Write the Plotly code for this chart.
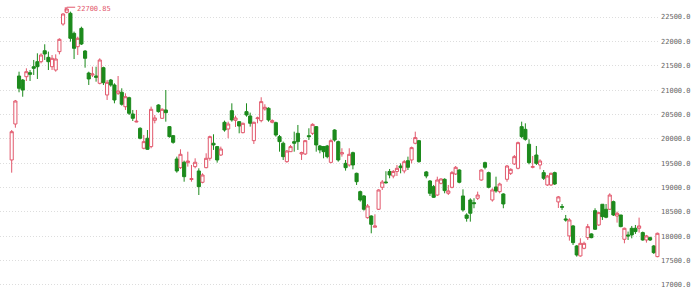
import plotly.graph_objects as go

opens = [19566,20304,21289,21207,21275,21357,21480,21583,21583,21808,
         21672,21480,21412,21789,22356,22596,22576,22165,21891,22267,
         21802,21350,21310,21290,21139,21460,20900,21207,21105,20934,
         20955,20659,20844,20510,20345,20216,19806,20011,19840,20380,
         20694,20421,20592,20250,20065,19586,19408,19519,19511,19165,
         19429,19340,19108,19408,19600,19909,19840,19668,20339,20202,
         20578,20380,20352,20126,20558,20469,19962,20414,20373,20612,
         20627,20339,20332,20045,19909,19531,19736,19942,20113,19689,
         19689,20065,20113,20250,19853,19840,19853,19517,20181,19942,
         19689,19497,19463,19716,19292,18916,18827,18382,18416,18185,
         18554,19005,19114,19330,19237,19330,19442,19340,19552,19566,
         19909,19962,None,
         19320,19135,19018,18847,19087,19169,18882,19005,19278,19360,
         18827,18437,18745,18690,18780,19155,19511,19306,18745,19012,
         18916,18868,19169,19292,19484,19395,20250,20195,19888,19415,
         19668,19463,19306,19053,19053,19306,18705,18610,18356,18007,
         18212,17801,17596,17753,17972,18048,18526,18232,18657,18554,
         18554,18711,18416,18437,17938,18027,18164,18164,18164,18075,
         17924,17972,17801,17582]
highs = [20181,20797,21378,21228,21447,21412,21618,21755,21755,21940,
         21789,21720,21734,22063,22576,22700.85,22610,22200,22096,22301,
         21823,21378,21480,21480,21652,21480,21207,21228,21139,21289,
         21037,20934,20864,20592,20592,20237,20079,20181,20661,20489,
         20709,20627,21002,20263,20079,19634,19785,19552,19736,19463,
         19600,19395,19292,19703,20065,20093,19853,19840,20373,20352,
         20729,20476,20366,20332,20729,20537,20352,20455,20853,20709,
         20647,20400,20352,20079,19942,19770,19874,20147,20284,19736,
         19976,20216,20318,20263,19874,19853,19874,19990,20195,19962,
         19806,19566,19806,19736,19305,18937,18847,18662,18430,18451,
         18964,19155,19335,19381,19360,19463,19497,19566,19634,19840,
         20147,19976,None,
         19340,19155,19053,19223,19190,19190,19053,19340,19442,19374,
         18964,18472,18779,18780,18916,19374,19531,19326,18984,19223,
         19100,18882,19463,19395,19668,19942,20352,20318,19990,19648,
         19853,19580,19360,19258,19306,19326,18827,18662,18437,18370,
         18232,17821,17958,17890,18253,18062,18575,18506,18662,18662,
         18882,18732,18506,18437,18178,18096,18212,18232,18383,18096,
         18027,17993,17821,18075]
lows = [19305,20228,20955,20864,21187,21187,21310,21228,21549,21618,
        21412,21412,21378,21734,22322,22576,21994,21638,21720,21925,
        21460,21105,21268,21173,21118,21105,20797,21070,20729,20900,
        20681,20592,20489,20366,20340,19990,19785,19772,19806,20318,
        20537,20407,20352,20025,19900,19305,19381,19120,19429,19120,
        19395,18847,19087,19395,19552,19772,19511,19648,20147,20011,
        20352,20243,20113,20113,20455,20250,19894,20318,20339,20578,
        20352,20318,20045,19736,19566,19510,19730,19736,19772,19566,
        19668,19976,20079,19736,19703,19600,19600,19497,19942,19531,
        19634,19347,19429,19374,19053,18711,18526,18361,18061,18185,
        18540,18950,19080,19190,19190,19237,19292,19292,19360,19497,
        19888,19511,None,
        19190,18827,18786,18827,19066,18882,18847,18984,19258,19087,
        18506,18300,18300,18575,18745,19140,19374,18984,18711,18895,
        18882,18575,19120,19258,19463,19374,20011,19962,19477,19395,
        19463,19374,19155,19032,19032,19053,18581,18540,18300,17910,
        17821,17582,17582,17733,17924,17959,18130,18212,18335,18370,
        18540,18416,18280,18185,17856,17924,17958,18048,18075,17910,
        17869,17903,17637,17569]
closes = [20146,20776,21037,21002,21378,21324,21447,21480,21720,21741,
          21583,21652,21638,22042,22562,22664,22063,21857,22063,21946,
          21652,21228,21330,21262,21618,21152,21160,21105,20797,20982,
          20709,20864,20524,20421,20360,20011,19942,19785,20606,20428,
          20558,20606,20537,20045,19928,19340,19682,19223,19545,19183,
          19519,19018,19258,19600,20045,19874,19566,19791,20181,20304,
          20387,20428,20263,20318,20489,20318,20339,20428,20763,20647,
          20387,20373,20079,19942,19634,19750,19840,19909,19942,19716,
          19962,20045,20297,19874,19772,19736,19634,19962,19976,19566,
          19716,19408,19682,19463,19120,18745,18554,18621,18245,18212,
          18950,19114,19100,19258,19330,19395,19408,19531,19415,19819,
          20025,19531,None,
          19237,18882,18800,19155,19176,18937,18930,19306,19415,19108,
          18540,18368,18472,18670,18847,19360,19415,19005,18950,18930,
          19073,18663,19442,19374,19634,19921,20045,19990,19511,19429,
          19497,19545,19190,19237,19292,19073,18808,18596,18335,18335,
          17869,17616,17855,17855,18198,17972,18144,18485,18403,18390,
          18847,18437,18472,18198,18164,18007,18027,18096,18212,17924,
          18007,17924,17664,18061]

x_idx = list(range(len(opens)))
y_ticks = [17000, 17500, 18000, 18500, 19000, 19500, 20000, 20500, 21000, 21500, 22000, 22500]

RED = "#e2586c"
GREEN = "#1c8a1c"

fig = go.Figure(go.Candlestick(
    x=x_idx, open=opens, high=highs, low=lows, close=closes,
    increasing=dict(line=dict(color=RED, width=1), fillcolor="#ffffff"),
    decreasing=dict(line=dict(color=GREEN, width=1), fillcolor=GREEN),
    whiskerwidth=0,
    showlegend=False,
))

valid_highs = [h if h is not None else -1 for h in highs]
imax = valid_highs.index(max(valid_highs))
hmax = highs[imax]

fig.add_shape(type="line", x0=x_idx[imax], x1=x_idx[imax] + 2.3, y0=hmax, y1=hmax,
              line=dict(color=RED, width=1))
fig.add_shape(type="line", x0=x_idx[imax] - 0.4, x1=x_idx[imax] - 0.4, y0=hmax, y1=hmax - 90,
              line=dict(color=RED, width=1))
fig.add_annotation(x=x_idx[imax] + 2.3, y=hmax, text=f"{hmax:.2f}", showarrow=False,
                   xanchor="left", yanchor="middle", yshift=-2,
                   font=dict(family="DejaVu Sans Mono", size=7, color=RED))

fig.update_layout(
    width=700, height=302,
    margin=dict(l=0, r=40, t=0, b=0),
    paper_bgcolor="white", plot_bgcolor="white",
    boxgap=0.15, boxgroupgap=0,
    xaxis=dict(range=[-3.19, 176.7], showgrid=False, showticklabels=False,
               zeroline=False, showline=False, rangeslider=dict(visible=False),
               fixedrange=True),
    yaxis=dict(range=[16651, 22849], side="right", tickvals=y_ticks,
               ticktext=[f"{v:.1f}" for v in y_ticks],
               showgrid=True, gridcolor="#dddddd", griddash="1px,2px", gridwidth=1,
               zeroline=False, showline=False, ticks="",
               tickfont=dict(family="DejaVu Sans Mono", size=7, color="#666666")),
)

fig.write_html("out.html")
